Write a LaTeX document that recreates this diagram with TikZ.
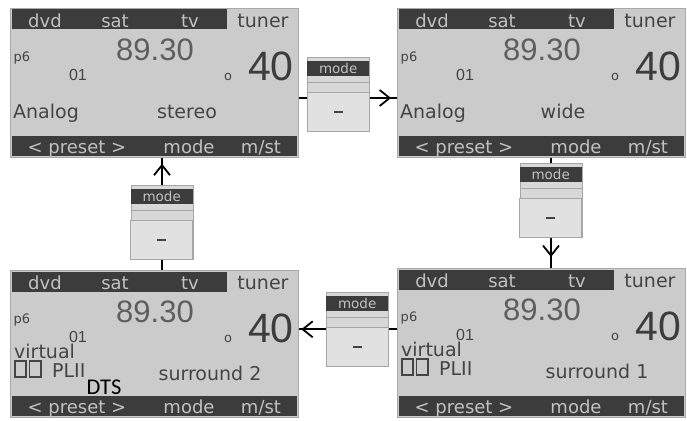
\documentclass[tikz,border=0pt]{standalone}
\usepackage{fontspec}
\setmainfont{DejaVu Sans}
\newfontfamily\numfont{Liberation Sans}
\newfontfamily\dtsfont{Carlito}
\usetikzlibrary{arrows.meta,decorations.markings,calc,backgrounds}
\definecolor{lcdbg}{HTML}{CBCBCB}
\definecolor{lcdedge}{HTML}{A9A9A9}
\definecolor{lcddark}{HTML}{3C3C3C}
\definecolor{lcdtxt}{HTML}{444444}
\definecolor{lcdfreq}{HTML}{5E5E5E}
\definecolor{lcdlight}{HTML}{C2C2C2}
\definecolor{btnbg}{HTML}{D8D8D8}
\definecolor{btnedge}{HTML}{A6A6A6}
\definecolor{btnbox}{HTML}{E1E1E1}

\newcommand\lcdbase[2]{%
 \begin{scope}[shift={(#1.north west)}]
  \fill[lcddark] (1.5,1.5) rectangle (217,21.5);
  \node[bartxt] (#1-dvd) at (35,19.5) {dvd};
  \node[bartxt] (#1-sat) at (105,19.5) {sat};
  \node[bartxt] (#1-tv) at (180,19.5) {tv};
  \node[lcdt] (#1-tuner) at (253,19.5) {tuner};
  \node[freqt] (#1-freq) at (145,52) {89.30};
  \node[smallt] (#1-p) at (12,53) {p6};
  \node[cht] (#1-ch) at (68,72) {01};
  \node[smallt] (#1-o) at (218,72) {o};
  \node[volt] (#1-vol) at (261,72) {40};
  \fill[lcddark] (1.5,#2-21) rectangle (286.5,#2-1.5);
  \node[bartxt] (#1-preset) at (67,#2-4) {< preset >};
  \node[bartxt] (#1-mode) at (179,#2-4) {mode};
  \node[bartxt] (#1-mst) at (251,#2-4) {m/st};
 \end{scope}}

\newcommand\surrlines[2]{%
 \begin{scope}[shift={(#1.north west)}]
  \node[lcdt, anchor=base west] (#1-virt) at (4,88) {virtual};
  \draw[ddbox] (5,91) rectangle (16,107);
  \draw[ddbox] (19.5,91) rectangle (31,107);
  \node[lcdt, anchor=base west] (#1-pl) at (42,107) {PLII};
  \node[lcdt] (#1-surr) at (200,110) {#2};
 \end{scope}}

\newcommand\modebtn[3]{%
 \node[btn] (#1) at (#2,#3) {};
 \begin{scope}[shift={(#1.north west)}]
  \fill[lcddark] (0,4) rectangle (62,19);
  \node[btntxt] (#1-t) at (31,16.5) {mode};
  \draw[btnedge, line width=0.6pt] (0,25) -- (62,25);
  \draw[btnedge, fill=btnbox, line width=0.9pt] (0,35) rectangle (62,74);
  \draw[lcdtxt, line width=2.4pt] (26.5,55) -- (35.5,55);
 \end{scope}}

\begin{document}
\begin{tikzpicture}[x=1pt,y=-1pt,
  panel/.style={draw=lcdedge, fill=lcdbg, line width=0.8pt, rectangle, inner sep=0pt,
    anchor=north west, minimum width=288pt},
  bartxt/.style={anchor=base, inner sep=0pt, text=lcdlight, font=\fontsize{18}{20}\selectfont},
  lcdt/.style={anchor=base, inner sep=0pt, text=lcdtxt, font=\fontsize{19}{21}\selectfont},
  freqt/.style={anchor=base, inner sep=0pt, text=lcdfreq, font=\numfont\fontsize{31}{33}\selectfont},
  volt/.style={anchor=base, inner sep=0pt, text=lcddark, font=\numfont\fontsize{41}{43}\selectfont},
  smallt/.style={anchor=base, inner sep=0pt, text=lcdtxt, font=\fontsize{13}{15}\selectfont},
  cht/.style={anchor=base, inner sep=0pt, text=lcdtxt, font=\numfont\fontsize{16}{18}\selectfont},
  ddbox/.style={draw=lcdtxt, line width=1.8pt},
  btn/.style={anchor=north, rectangle, inner sep=0pt, minimum width=62pt, minimum height=74pt,
    fill=btnbg, draw=btnedge, line width=0.6pt},
  btntxt/.style={anchor=base, inner sep=0pt, text=lcdlight, font=\fontsize{13.5}{15}\selectfont},
  conn/.style={line width=1.7pt, black},
  arrowat/.style={postaction={decorate}, decoration={markings,
    mark=at position #1 with {\arrow{Straight Barb[length=10pt,width=16pt,line width=1.8pt]}}}}
]
\begin{scope}[on background layer]
  \fill[white] (0,0) rectangle (687,420);
\end{scope}
\useasboundingbox (0,0) rectangle (687,420);

% panels
\node[panel, minimum height=149pt] (TL) at (10,8) {};
\lcdbase{TL}{149}
\begin{scope}[shift={(TL.north west)}]
  \node[lcdt] (TL-l1) at (36,110) {Analog};
  \node[lcdt] (TL-l2) at (177,110) {stereo};
\end{scope}

\node[panel, minimum height=149pt] (TR) at (397,8) {};
\lcdbase{TR}{149}
\begin{scope}[shift={(TR.north west)}]
  \node[lcdt] (TR-l1) at (36,110) {Analog};
  \node[lcdt] (TR-l2) at (166,110) {wide};
\end{scope}

\node[panel, minimum height=147pt] (BL) at (10,270) {};
\lcdbase{BL}{147}
\surrlines{BL}{surround 2}
\begin{scope}[shift={(BL.north west)}]
  \node[text=black, anchor=base, inner sep=0pt, font=\dtsfont\fontsize{22.5}{24}\selectfont] (BL-dts) at (94,124) {DTS};
\end{scope}

\node[panel, minimum height=149pt] (BR) at (397,268) {};
\lcdbase{BR}{149}
\surrlines{BR}{surround 1}

% mode buttons
\modebtn{B1}{338.5}{57}
\modebtn{B2}{551}{163}
\modebtn{B3}{357.5}{292}
\modebtn{B4}{162}{185}

% connectors
\begin{scope}[on background layer]
  \coordinate (c1s) at ($(TL.north east)+(0,90)$);
  \draw[conn, arrowat=0.94] (c1s) -- (c1s -| TR.west);
  \draw[conn, arrowat=0.9] (B2 |- TR.south) -- (B2 |- BR.north);
  \draw[conn, arrowat=0.975] (BR.west |- B3) -- (BL.east |- B3);
  \draw[conn, arrowat=0.947] (B4 |- BL.north) -- (B4 |- TL.south);
\end{scope}
\end{tikzpicture}
\end{document}
